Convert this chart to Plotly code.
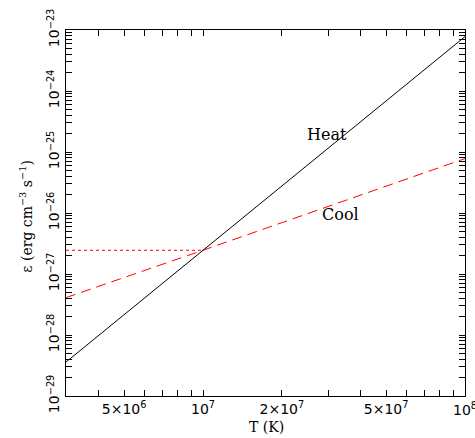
import numpy as np
import plotly.graph_objects as go

# Data
T = [3e6, 1e7, 1e8]
heat = [3.6e-29, 2.45e-27, 7.8e-24]
cool = [4.1e-28, 2.45e-27, 7.8e-26]
T_eq = [3e6, 1e7]
eps_eq = [2.45e-27, 2.45e-27]

x_major = [5e6, 1e7, 2e7, 5e7, 1e8]
x_major_text = ["5×10<sup>6</sup>", "10<sup>7</sup>", "2×10<sup>7</sup>", "5×10<sup>7</sup>", ""]
x_edge_label = "10<sup>8</sup>"
x_minor = [3e6, 4e6, 6e6, 7e6, 8e6, 9e6, 3e7, 4e7, 6e7, 7e7, 8e7, 9e7]
y_exps = [-29, -28, -27, -26, -25, -24, -23]
y_major = [10.0 ** e for e in y_exps]
y_major_text = ["10<sup>−%d</sup>" % (-e) for e in y_exps]
y_minor = [m * 10.0 ** e for e in y_exps[:-1] for m in range(2, 10)]

x_tickvals = x_major + x_minor
x_ticktext = x_major_text + [""] * len(x_minor)
y_tickvals = y_major + y_minor
y_ticktext = y_major_text + [""] * len(y_minor)

fig = go.Figure()
fig.add_trace(go.Scatter(x=T_eq, y=eps_eq, mode="lines",
                         line=dict(color="red", width=1, dash="dot"), showlegend=False))
fig.add_trace(go.Scatter(x=T, y=cool, mode="lines",
                         line=dict(color="red", width=1, dash="10px,6px"), showlegend=False))
fig.add_trace(go.Scatter(x=T, y=heat, mode="lines",
                         line=dict(color="black", width=1), showlegend=False))

fig.add_annotation(text="Heat", x=0.655, y=0.745, xref="paper", yref="paper",
                   showarrow=False, font=dict(family="DejaVu Serif", size=16, color="black"))
fig.add_annotation(text="Cool", x=0.74, y=0.497, xref="paper", yref="paper",
                   showarrow=False, font=dict(family="DejaVu Serif", size=16, color="black"))

# label at the right edge (cut off by the page edge, as in the reference)
fig.add_annotation(text=x_edge_label, x=1.0, y=-0.006, xref="paper", yref="paper",
                   xanchor="center", yanchor="top", showarrow=False,
                   font=dict(family="DejaVu Sans", size=14, color="black"))

# axis titles
fig.add_annotation(text="T (K)", x=0.5025, y=-0.085, xref="paper", yref="paper",
                   yanchor="middle", showarrow=False,
                   font=dict(family="DejaVu Serif", size=14, color="black"))
fig.add_annotation(text="ε (erg cm<sup>−3</sup> s<sup>−1</sup>)", x=-0.1, y=0.49,
                   xref="paper", yref="paper", xanchor="center", yanchor="middle",
                   textangle=-90, showarrow=False,
                   font=dict(family="DejaVu Serif", size=14, color="black"))

fig.update_layout(
    xaxis=dict(type="log", range=[np.log10(3e6), 8], tickmode="array",
               tickvals=x_tickvals, ticktext=x_ticktext,
               ticks="inside", ticklen=6, tickwidth=1, tickcolor="black",
               showline=True, linecolor="black", mirror="allticks",
               tickfont=dict(family="DejaVu Sans", size=14, color="black")),
    yaxis=dict(type="log", range=[-29, -23], tickmode="array",
               tickvals=y_tickvals, ticktext=y_ticktext, tickangle=-90,
               ticks="inside", ticklen=6, tickwidth=1, tickcolor="black",
               showline=True, linecolor="black", mirror="allticks",
               tickfont=dict(family="DejaVu Sans", size=14, color="black")),
    width=475, height=438, margin=dict(l=66, r=9, t=26, b=42),
    paper_bgcolor="white", plot_bgcolor="white",
)

fig.write_html("out.html", config={"displayModeBar": False},
               post_script="document.body.style.margin='0';document.body.style.overflow='hidden';")
